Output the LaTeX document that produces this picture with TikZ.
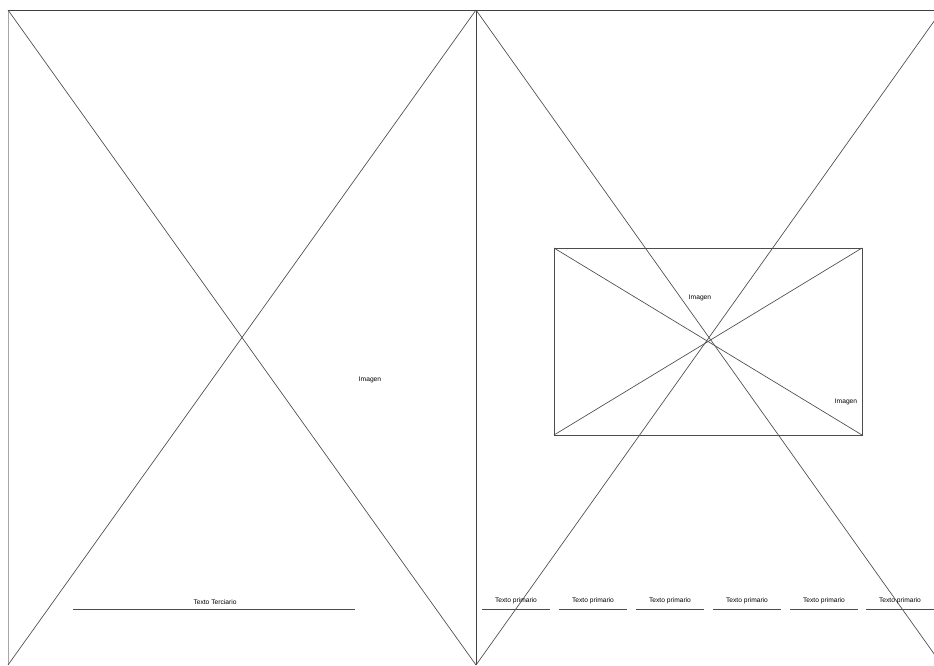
\documentclass[tikz,border=0pt]{standalone}
\usepackage{fontspec}
\setmainfont{Liberation Sans}
\begin{document}
\begin{tikzpicture}[x=0.75pt,y=-0.75pt,
  frame/.style={draw=black!75,line width=0.6pt},
  diag/.style={draw=black!70,line width=0.5pt},
  uline/.style={draw=black!70,line width=0.6pt},
  lbl/.style={font=\fontsize{5}{6}\selectfont,inner sep=0.5pt}]
\useasboundingbox (0,0) rectangle (934,665);
\begin{scope}
\clip (0,0) rectangle (934,665);
% panel corners
\coordinate (LTL) at (8,10);
\coordinate (LTR) at (476,10);
\coordinate (LBL) at (8,665);
\coordinate (LBR) at (476,665);
\coordinate (RTR) at (942,10);
\coordinate (RBR) at (942,665);
% frame
\draw[draw=black!35,line width=0.6pt] (LTL) -- (LBL);
\draw[frame] (LTL) -- (RTR);
\draw[frame] (LTR) -- (LBR);
% left panel diagonals
\draw[diag] (LTL) -- (LBR);
\draw[diag] (LTR) -- (LBL);
% right panel diagonals
\draw[diag] (LTR) -- (RBR);
\draw[diag] (RTR) -- (LBR);
\end{scope}
% inner rectangle
\coordinate (ITL) at (554,248);
\coordinate (ITR) at (862,248);
\coordinate (IBL) at (554,435);
\coordinate (IBR) at (862,435);
\draw[diag] (ITL) rectangle (IBR);
\draw[diag] (ITL) -- (IBR);
\draw[diag] (IBL) -- (ITR);
% labels
\node[lbl] (img1) at (370,380) {Imagen};
\node[lbl] (img2) at (700,298) {Imagen};
\node[lbl] (img3) at (846,402) {Imagen};
\node[lbl] (terc) at (215,602) {Texto Terciario};
\coordinate (tA) at (73,609);
\coordinate (tB) at (355,609);
\draw[uline] (tA) -- (tB);
\foreach \i/\cx in {1/516,2/593,3/670,4/747,5/824,6/900} {
  \node[lbl] (p\i) at (\cx,601) {Texto primario};
  \coordinate (pa\i) at (\cx-34,609);
  \coordinate (pb\i) at (\cx+34,609);
  \draw[uline] (pa\i) -- (pb\i);
}
\end{tikzpicture}
\end{document}
